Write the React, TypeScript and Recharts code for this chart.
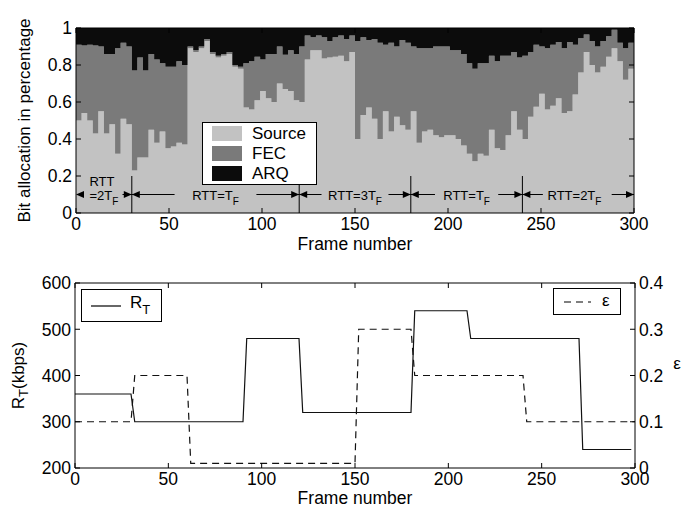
import React from 'react';
import {
  AreaChart,
  Area,
  LineChart,
  Line,
  XAxis,
  YAxis,
  ReferenceLine,
  ReferenceDot,
  Legend,
} from 'recharts';

// top panel: share of the bit budget, one value per group of 3 frames
const FRAME_STEP = 3;

const sourceShare = [
  0.5, 0.54, 0.5, 0.43, 0.55, 0.43, 0.48, 0.32, 0.51, 0.48,
  0.23, 0.3, 0.3, 0.45, 0.38, 0.44, 0.35, 0.36, 0.38, 0.37,
  0.89, 0.87, 0.89, 0.93, 0.86, 0.84, 0.85, 0.86, 0.79, 0.78,
  0.57, 0.56, 0.61, 0.66, 0.62, 0.6, 0.7, 0.67, 0.66, 0.61,
  0.6, 0.83, 0.88, 0.88, 0.835, 0.84, 0.845, 0.85, 0.82, 0.87,
  0.4, 0.53, 0.57, 0.51, 0.4, 0.55, 0.44, 0.52, 0.475, 0.45,
  0.55, 0.38, 0.44, 0.45, 0.42, 0.41, 0.42, 0.42, 0.4, 0.365,
  0.32, 0.28, 0.32, 0.31, 0.45, 0.35, 0.34, 0.42, 0.55, 0.45,
  0.4, 0.52, 0.575, 0.645, 0.56, 0.58, 0.62, 0.54, 0.55, 0.64,
  0.76, 0.87, 0.8, 0.76, 0.79, 0.845, 0.89, 0.82, 0.72, 0.78,
];

const fecShare = [
  0.41, 0.365, 0.41, 0.475, 0.35, 0.43, 0.38, 0.57, 0.41, 0.42,
  0.54, 0.54, 0.47, 0.41, 0.45, 0.37, 0.44, 0.43, 0.44, 0.43,
  0.01, 0.01, 0.01, 0.01, 0.01, 0.01, 0.01, 0.01, 0.01, 0.01,
  0.24, 0.26, 0.235, 0.17, 0.24, 0.26, 0.2, 0.185, 0.22, 0.25,
  0.3, 0.13, 0.07, 0.08, 0.115, 0.09, 0.105, 0.11, 0.12, 0.09,
  0.53, 0.42, 0.365, 0.43, 0.52, 0.36, 0.48, 0.38, 0.46, 0.47,
  0.35, 0.51, 0.45, 0.44, 0.48, 0.49, 0.48, 0.46, 0.48, 0.495,
  0.49, 0.5, 0.49, 0.5, 0.4, 0.47, 0.51, 0.43, 0.32, 0.39,
  0.45, 0.35, 0.335, 0.255, 0.33, 0.33, 0.305, 0.35, 0.375, 0.27,
  0.185, 0.095, 0.13, 0.14, 0.14, 0.11, 0.1, 0.1, 0.17, 0.14,
];

const arqShare = [
  0.09, 0.095, 0.09, 0.095, 0.1, 0.14, 0.14, 0.11, 0.08, 0.1,
  0.23, 0.16, 0.23, 0.14, 0.17, 0.19, 0.21, 0.21, 0.18, 0.2,
  0.1, 0.12, 0.1, 0.06, 0.13, 0.15, 0.14, 0.13, 0.2, 0.21,
  0.19, 0.18, 0.155, 0.17, 0.14, 0.14, 0.1, 0.145, 0.12, 0.14,
  0.1, 0.04, 0.05, 0.04, 0.05, 0.07, 0.05, 0.04, 0.06, 0.04,
  0.07, 0.05, 0.065, 0.06, 0.08, 0.09, 0.08, 0.1, 0.065, 0.08,
  0.1, 0.11, 0.11, 0.11, 0.1, 0.1, 0.1, 0.12, 0.12, 0.14,
  0.19, 0.22, 0.19, 0.19, 0.15, 0.18, 0.15, 0.15, 0.13, 0.16,
  0.15, 0.13, 0.09, 0.1, 0.11, 0.09, 0.075, 0.11, 0.075, 0.09,
  0.055, 0.035, 0.07, 0.1, 0.07, 0.045, 0.01, 0.08, 0.11, 0.08,
];

// bottom panel: target rate and loss rate
const rtFrames = [0, 30, 32, 90, 92, 120, 122, 180, 182, 210, 212, 270, 272, 298];
const rtKbps = [360, 360, 300, 300, 480, 480, 320, 320, 540, 540, 480, 480, 240, 240];
const epsFrames = [0, 30, 32, 60, 62, 150, 152, 180, 182, 240, 242, 300];
const epsValues = [0.1, 0.1, 0.2, 0.2, 0.01, 0.01, 0.3, 0.3, 0.2, 0.2, 0.1, 0.1];

const frameTicks = [0, 50, 100, 150, 200, 250, 300];
const shareTicks = [0, 0.2, 0.4, 0.6, 0.8, 1];
const rateTicks = [200, 300, 400, 500, 600];
const epsTicks = [0, 0.1, 0.2, 0.3, 0.4];

// RTT regimes along the bottom of the top panel
const rttBoundaries = [30, 120, 180, 240];
const rttLabels = [
  { text: '=2T', above: 'RTT', at: 15 },
  { text: 'RTT=T', at: 75 },
  { text: 'RTT=3T', at: 150 },
  { text: 'RTT=T', at: 210 },
  { text: 'RTT=2T', at: 268 },
];
const rttLeaders = [
  [25, 30], [30, 53], [97, 120], [120, 132], [168, 180],
  [180, 193], [227, 240], [240, 251], [288, 300],
];

const legendOrder = ['source', 'fec', 'arq'];
const COLORS: Record<string, string> = { source: '#c2c2c2', fec: '#7a7a7a', arq: '#0c0c0c' };
const FONT = 17.5;
const TICK_LEN = 5;
const PLOT_H = 185;
const TOP_PLOT = { left: 76, right: 634, top: 28 };
const BOT_PLOT = { left: 75, right: 635, top: 23 };

const allocRows = sourceShare.map((s, i) => ({
  frame: i * FRAME_STEP,
  source: s,
  fec: fecShare[i],
  arq: arqShare[i],
}));
allocRows.push({ ...allocRows[allocRows.length - 1], frame: 300 });

const rtRows = rtFrames.map((f, i) => ({ frame: f, rt: rtKbps[i] }));
const epsRows = epsFrames.map((f, i) => ({ frame: f, eps: epsValues[i] }));

const fmtShare = (v: number) => (v === 0 || v === 1 ? String(v) : v.toFixed(1));

const bottomTick = (plotH: number, gap: number) => (props: any) => {
  const { x, y, payload } = props;
  const axisY = y - gap;
  return (
    <g>
      <line x1={x} x2={x} y1={axisY} y2={axisY - TICK_LEN} stroke="#000" />
      <line x1={x} x2={x} y1={axisY - plotH} y2={axisY - plotH + TICK_LEN} stroke="#000" />
      <text x={x} y={y} dy="0.76em" textAnchor="middle" fontSize={FONT} fill="#000">
        {payload.value}
      </text>
    </g>
  );
};

const leftTick = (plotW: number, fmt: (v: number) => string) => (props: any) => {
  const { x, y, payload } = props;
  const axisX = x + 4;
  return (
    <g>
      <line x1={axisX} x2={axisX + TICK_LEN} y1={y} y2={y} stroke="#000" />
      {plotW > 0 && (
        <line x1={axisX + plotW} x2={axisX + plotW - TICK_LEN} y1={y} y2={y} stroke="#000" />
      )}
      <text x={x} y={y} dy="0.36em" textAnchor="end" fontSize={FONT} fill="#000">
        {fmt(payload.value)}
      </text>
    </g>
  );
};

const rightTick = (props: any) => {
  const { x, y, payload } = props;
  const axisX = x - 4;
  return (
    <g>
      <line x1={axisX} x2={axisX - TICK_LEN} y1={y} y2={y} stroke="#000" />
      <text x={x} y={y} dy="0.36em" textAnchor="start" fontSize={FONT} fill="#000">
        {payload.value}
      </text>
    </g>
  );
};

const arrowHead = (dir: 1 | -1) => (props: any) => {
  const { cx, cy } = props;
  return (
    <path
      d={`M${cx},${cy} L${cx - dir * 8},${cy - 3.5} L${cx - dir * 8},${cy + 3.5} Z`}
      fill="#000"
    />
  );
};

const rttText = (text: string, above?: string) => (props: any) => {
  const { cx, cy } = props;
  return (
    <g>
      {above && (
        <text x={cx - 2} y={cy - 9} textAnchor="middle" fontSize={13} fill="#000">
          {above}
        </text>
      )}
      <text x={cx} y={cy + 5} textAnchor="middle" fontSize={13} fill="#000">
        {text}
        <tspan fontSize={10} dy={5}>F</tspan>
      </text>
    </g>
  );
};

function AllocLegend({ payload }: any) {
  const entries = [...(payload || [])].sort(
    (a: any, b: any) => legendOrder.indexOf(a.dataKey) - legendOrder.indexOf(b.dataKey),
  );
  return (
    <div
      style={{
        width: 113,
        height: 61,
        border: '1px solid #000',
        background: '#fff',
        position: 'relative',
      }}
    >
      {entries.map((entry: any, i: number) => (
        <div key={entry.value} style={{ position: 'absolute', left: 9, top: 3 + i * 20, height: 15, display: 'flex', alignItems: 'center' }}>
          <div style={{ width: 30, height: 15, background: COLORS[entry.dataKey] }} />
          <span style={{ marginLeft: 10, fontSize: 17, lineHeight: '15px', color: '#000' }}>{entry.value}</span>
        </div>
      ))}
    </div>
  );
}

function RateLegend() {
  return (
    <div style={{ position: 'relative', width: 695, height: 80 }}>
      <div style={{ position: 'absolute', left: 81, top: 29, width: 79, height: 31, border: '1px solid #000', background: '#fff' }}>
        <svg width={40} height={31} style={{ position: 'absolute', left: 0, top: 0 }}>
          <line x1={9} x2={39} y1={16} y2={16} stroke="#000" strokeWidth={1.2} />
        </svg>
        <span style={{ position: 'absolute', left: 48, top: 3, fontSize: 17, color: '#000' }}>
          R<sub style={{ fontSize: 13, verticalAlign: '-6px' }}>T</sub>
        </span>
      </div>
      <div style={{ position: 'absolute', left: 553, top: 28, width: 66, height: 25, border: '1px solid #000', background: '#fff' }}>
        <svg width={40} height={25} style={{ position: 'absolute', left: 0, top: 0 }}>
          <line x1={10} x2={37} y1={13} y2={13} stroke="#000" strokeWidth={1.2} strokeDasharray="7 5" />
        </svg>
        <span style={{ position: 'absolute', left: 48, top: 2, fontSize: 17, color: '#000' }}>ε</span>
      </div>
    </div>
  );
}

function AllocationChart() {
  const midY = TOP_PLOT.top + PLOT_H / 2;
  return (
    <AreaChart
      width={695}
      height={260}
      data={allocRows}
      margin={{ top: TOP_PLOT.top, right: 695 - TOP_PLOT.right, bottom: 6, left: TOP_PLOT.left - 60 }}
    >
      <XAxis
        dataKey="frame"
        type="number"
        domain={[0, 300]}
        ticks={frameTicks}
        height={41}
        tickSize={0}
        tickMargin={4}
        tick={bottomTick(PLOT_H, 4)}
        stroke="#000"
        label={{ value: 'Frame number', position: 'insideBottom', offset: 4, fontSize: FONT, fill: '#000' }}
      />
      <YAxis
        type="number"
        domain={[0, 1]}
        ticks={shareTicks}
        width={60}
        tickSize={0}
        tickMargin={4}
        tick={leftTick(TOP_PLOT.right - TOP_PLOT.left, fmtShare)}
        stroke="#000"
        label={() => (
          <text
            x={24}
            y={midY}
            transform={`rotate(-90 24 ${midY})`}
            textAnchor="middle"
            dominantBaseline="central"
            fontSize={17}
            fill="#000"
          >
            Bit allocation in percentage
          </text>
        )}
      />
      <Area type="stepAfter" dataKey="source" name="Source" stackId="alloc" stroke="none" fill={COLORS.source} fillOpacity={1} isAnimationActive={false} />
      <Area type="stepAfter" dataKey="fec" name="FEC" stackId="alloc" stroke="none" fill={COLORS.fec} fillOpacity={1} isAnimationActive={false} />
      <Area type="stepAfter" dataKey="arq" name="ARQ" stackId="alloc" stroke="none" fill={COLORS.arq} fillOpacity={1} isAnimationActive={false} />
      <ReferenceLine y={1} stroke="#000" />
      <ReferenceLine x={300} stroke="#000" />
      {rttBoundaries.map((b) => (
        <ReferenceLine key={`v${b}`} segment={[{ x: b, y: 0 }, { x: b, y: 0.2 }]} stroke="#000" />
      ))}
      {rttLeaders.map(([a, b]) => (
        <ReferenceLine key={`h${a}`} segment={[{ x: a, y: 0.1 }, { x: b, y: 0.1 }]} stroke="#000" />
      ))}
      {[0, ...rttBoundaries].map((b) => (
        <ReferenceDot key={`l${b}`} x={b} y={0.1} shape={arrowHead(-1)} />
      ))}
      {[...rttBoundaries, 300].map((b) => (
        <ReferenceDot key={`r${b}`} x={b} y={0.1} shape={arrowHead(1)} />
      ))}
      {rttLabels.map((l) => (
        <ReferenceDot key={`t${l.at}`} x={l.at} y={0.1} shape={rttText(l.text, l.above)} />
      ))}
      <Legend
        layout="vertical"
        align="center"
        verticalAlign="middle"
        content={(p: any) => <AllocLegend payload={p.payload} />}
        wrapperStyle={{ left: 202, top: 122, width: 115, height: 63 }}
      />
    </AreaChart>
  );
}

function RateChart() {
  const midY = BOT_PLOT.top + PLOT_H / 2;
  return (
    <LineChart
      width={695}
      height={248}
      margin={{ top: BOT_PLOT.top, right: 695 - BOT_PLOT.right - 40, bottom: 3, left: BOT_PLOT.left - 60 }}
    >
      <XAxis
        dataKey="frame"
        type="number"
        domain={[0, 300]}
        ticks={frameTicks}
        height={37}
        tickSize={0}
        tickMargin={4}
        tick={bottomTick(PLOT_H, 4)}
        stroke="#000"
        allowDuplicatedCategory={false}
        label={{ value: 'Frame number', position: 'insideBottom', offset: 1, fontSize: FONT, fill: '#000' }}
      />
      <YAxis
        yAxisId="left"
        type="number"
        domain={[200, 600]}
        ticks={rateTicks}
        width={60}
        tickSize={0}
        tickMargin={4}
        tick={leftTick(0, (v) => String(v))}
        stroke="#000"
        label={() => (
          <text
            x={18}
            y={midY}
            transform={`rotate(-90 18 ${midY})`}
            textAnchor="middle"
            dominantBaseline="central"
            fontSize={17}
            fill="#000"
          >
            R<tspan fontSize={13} dy={5}>T</tspan>
            <tspan dy={-5}>(kbps)</tspan>
          </text>
        )}
      />
      <YAxis
        yAxisId="right"
        orientation="right"
        type="number"
        domain={[0, 0.4]}
        ticks={epsTicks}
        width={40}
        tickSize={0}
        tickMargin={4}
        tick={rightTick}
        stroke="#000"
        label={() => (
          <text x={677} y={midY - 12} textAnchor="middle" dominantBaseline="central" fontSize={17} fill="#000">
            ε
          </text>
        )}
      />
      <ReferenceLine yAxisId="left" y={600} stroke="#000" />
      <Line
        yAxisId="left"
        data={rtRows}
        dataKey="rt"
        name="rt"
        type="linear"
        stroke="#111"
        strokeWidth={1.2}
        dot={false}
        isAnimationActive={false}
      />
      <Line
        yAxisId="right"
        data={epsRows}
        dataKey="eps"
        name="eps"
        type="linear"
        stroke="#111"
        strokeWidth={1.2}
        strokeDasharray="7 5"
        dot={false}
        isAnimationActive={false}
      />
      <Legend
        layout="vertical"
        align="center"
        verticalAlign="middle"
        content={() => <RateLegend />}
        wrapperStyle={{ left: 0, top: 0, width: 695, height: 80 }}
      />
    </LineChart>
  );
}

export default function App() {
  return (
    <div
      style={{
        position: 'absolute',
        left: 0,
        top: 0,
        width: 695,
        height: 508,
        background: '#fff',
        fontFamily: '"Liberation Sans", Arial, Helvetica, sans-serif',
      }}
    >
      <AllocationChart />
      <div style={{ position: 'absolute', left: 0, top: 260 }}>
        <RateChart />
      </div>
    </div>
  );
}
